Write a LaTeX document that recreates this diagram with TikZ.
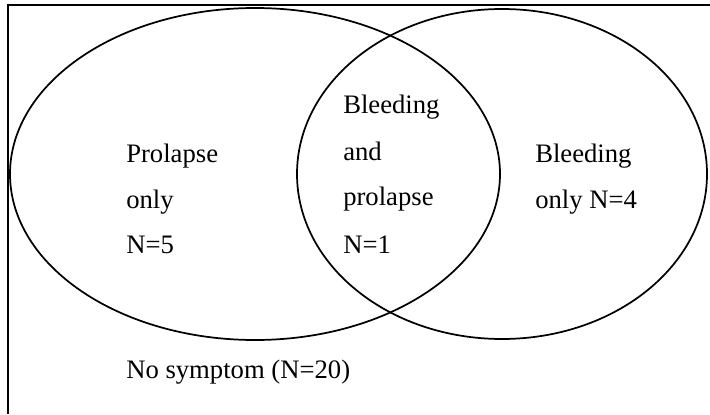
\documentclass[tikz,border=0pt]{standalone}
\usepackage{fontspec}
\setmainfont{Liberation Serif}
\usepackage{tikz}
\tikzset{
  venn/.style={line width=1.3pt, draw=black},
  lbl/.style={anchor=base west, inner sep=0pt, font=\fontsize{20}{24}\selectfont}
}

\begin{document}
\begin{tikzpicture}[x=0.75pt, y=-0.75pt]
\useasboundingbox (0,0) rectangle (710,414);

% 枠
\draw[line width=1.4pt] (8,414) -- (8,5) -- (710,5);

% 二つの円
\draw[venn] (255,174) ellipse [x radius=245, y radius=166];
\draw[venn] (502,174) ellipse [x radius=205, y radius=165];

% 左の領域
\node[lbl] (prolA) at (126,162) {Prolapse};
\node[lbl] (prolB) at (126,208) {only};
\node[lbl] (prolC) at (126,253) {N=5};

% 重なり
\node[lbl] (bothA) at (343,113) {Bleeding};
\node[lbl] (bothB) at (343,160) {and};
\node[lbl] (bothC) at (343,205) {prolapse};
\node[lbl] (bothD) at (343,253) {N=1};

% 右の領域
\node[lbl] (bleedA) at (535,162) {Bleeding};
\node[lbl] (bleedB) at (535,208) {only N=4};

% 外側
\node[lbl] (none) at (126,378) {No symptom (N=20)};
\end{tikzpicture}
\end{document}
